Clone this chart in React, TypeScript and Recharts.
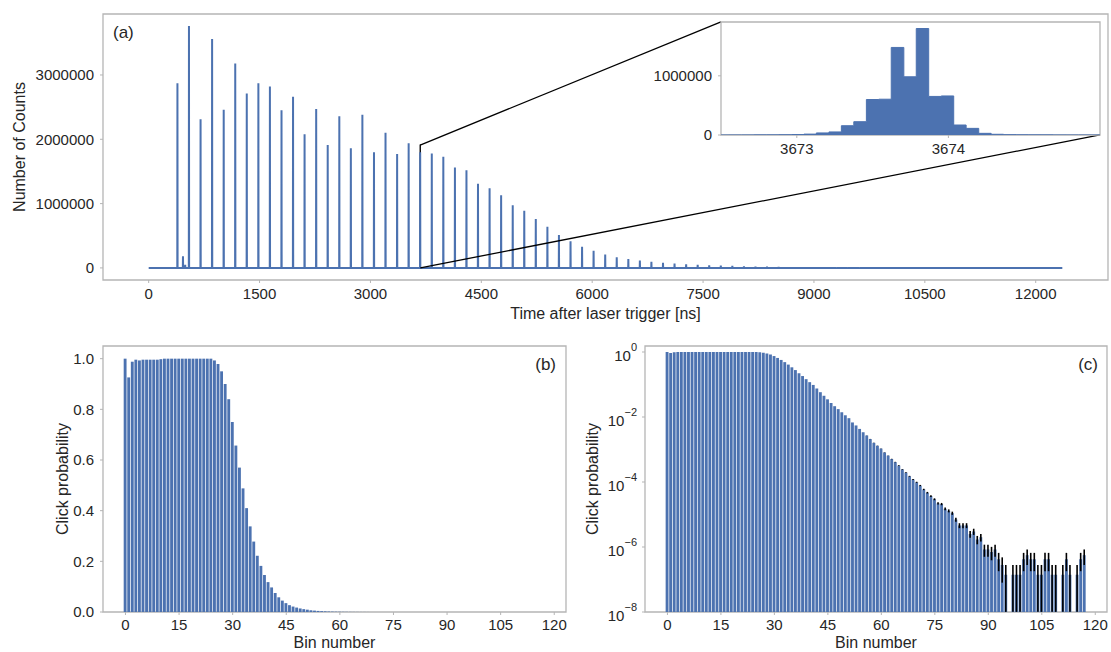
import React from "react";
import {
  LineChart,
  Line,
  AreaChart,
  Area,
  BarChart,
  Bar,
  XAxis,
  YAxis,
  ErrorBar,
  ReferenceArea,
  ReferenceLine,
} from "recharts";

const BLUE = "#4c72b0";
const FRAME = "#b5b5b5";
const TEXT = "#262626";
const FONT = "'Liberation Sans', Arial, Helvetica, sans-serif";

// (a) time trace: laser pulse peaks [ns] and their heights [counts]
const peakTimes = [
  389, 545, 702, 858, 1015, 1171, 1327, 1484, 1640, 1797, 1953, 2109, 2266, 2422, 2579,
  2735, 2891, 3048, 3204, 3361, 3517, 3673, 3830, 3986, 4143, 4299, 4455, 4612, 4768,
  4925, 5081, 5237, 5394, 5550, 5707, 5863, 6019, 6176, 6332, 6489, 6645, 6801, 6958,
  7114, 7271, 7427, 7583, 7740, 7896, 8053, 8209, 8365, 8522, 8678, 8835, 8991, 9147,
  9304, 9460, 9617,
];
const peakCounts = [
  2870000, 3760000, 2310000, 3560000, 2460000, 3180000, 2710000, 2870000, 2820000,
  2450000, 2660000, 2080000, 2470000, 1910000, 2360000, 1860000, 2380000, 1800000,
  2100000, 1770000, 1940000, 1800000, 1780000, 1730000, 1560000, 1520000, 1310000,
  1240000, 1130000, 975000, 890000, 760000, 640000, 510000, 415000, 330000, 265000,
  210000, 167000, 140000, 115000, 94000, 78000, 68000, 57000, 47000, 42000, 37000,
  31000, 26000, 22000, 19000, 16000, 13000, 11000, 9000, 8000, 7000, 6000, 5000,
];
const afterpulseTimes = [464, 494];
const afterpulseCounts = [180000, 50000];
const traceEnd = 12360;
const timeTicks = [0, 1500, 3000, 4500, 6000, 7500, 9000, 10500, 12000];
const countTicks = [0, 1000000, 2000000, 3000000];

// inset: zoom on the pulse at ~3673.6 ns
const insetBinStarts = [
  3672.5, 3672.553, 3672.635, 3672.718, 3672.8, 3672.882, 3672.965, 3673.047, 3673.129,
  3673.212, 3673.294, 3673.376, 3673.459, 3673.541, 3673.623, 3673.706, 3673.788,
  3673.87, 3673.953, 3674.035, 3674.117, 3674.2, 3674.282, 3674.364, 3674.447, 3674.529,
  3674.611, 3674.694, 3674.776, 3674.858, 3674.941,
];
const insetBinCounts = [
  1000, 1500, 2000, 2500, 3000, 5000, 8000, 15000, 35000, 52000, 157000, 225000, 600000,
  605000, 1480000, 984000, 1800000, 652000, 660000, 169000, 112000, 28000, 12000, 6000,
  4000, 3000, 2500, 2000, 1500, 1200, 1000,
];
const insetTimeTicks = [3673, 3674];
const insetCountTicks = [0, 1000000];

// (b), (c) click probability per bin
const clickProb = [
  1.0, 0.926, 0.988, 0.996, 0.993, 0.996, 0.996, 0.996, 0.996, 0.996, 0.998, 1.0, 1.0,
  1.0, 1.0, 1.0, 1.0, 1.0, 1.0, 1.0, 1.0, 1.0, 1.0, 1.0, 1.0, 0.993, 0.979, 0.95, 0.9,
  0.84, 0.75, 0.657, 0.57, 0.488, 0.41, 0.338, 0.278, 0.222, 0.182, 0.146, 0.118, 0.097,
  0.075, 0.058, 0.045, 0.035, 0.027, 0.0215, 0.0175, 0.014, 0.0113, 0.0092, 0.0068,
  0.0055, 0.0043, 0.0034, 0.0027, 0.0021, 0.0016, 0.0013, 0.00107, 8.1e-4, 6.5e-4,
  5.1e-4, 4.1e-4, 3.2e-4, 2.45e-4, 1.95e-4, 1.5e-4, 1.2e-4, 9.8e-5, 7.8e-5, 5.9e-5,
  4.7e-5, 3.7e-5, 2.95e-5, 2.2e-5, 2.1e-5, 1.5e-5, 1.3e-5, 1.1e-5, 7.0e-6, 4.6e-6,
  4.6e-6, 4.6e-6, 2.5e-6, 3.0e-6, 1.7e-6, 2.0e-6, 8.4e-7, 8.4e-7, 7.0e-7, 8.4e-7,
  4.2e-7, 2.8e-7, 1.4e-7, 0, 1.4e-7, 1.4e-7, 1.4e-7, 4.2e-7, 5.6e-7, 4.2e-7, 4.2e-7,
  1.4e-7, 1.4e-7, 4.2e-7, 4.2e-7, 1.4e-7, 1.4e-7, 0, 1.4e-7, 4.2e-7, 1.4e-7, 0, 1.4e-7,
  4.2e-7, 5.6e-7,
];
// error bars, only visible from bin 56 on
const clickErrFrom = 56;
const clickErrTail = [
  1.94e-5, 1.71e-5, 1.5e-5, 1.35e-5, 1.22e-5, 1.06e-5, 9.5e-6, 8.4e-6, 7.6e-6, 6.7e-6,
  5.9e-6, 5.2e-6, 4.6e-6, 4.1e-6, 3.7e-6, 3.3e-6, 2.9e-6, 2.6e-6, 2.3e-6, 2.0e-6,
  1.75e-6, 1.7e-6, 1.45e-6, 1.35e-6, 1.24e-6, 9.9e-7, 8.0e-7, 8.0e-7, 8.0e-7, 5.9e-7,
  6.5e-7, 4.9e-7, 5.3e-7, 3.4e-7, 3.4e-7, 3.1e-7, 3.4e-7, 2.4e-7, 2.0e-7, 1.4e-7, 0,
  1.4e-7, 1.4e-7, 1.4e-7, 2.4e-7, 2.8e-7, 2.4e-7, 2.4e-7, 1.4e-7, 1.4e-7, 2.4e-7,
  2.4e-7, 1.4e-7, 1.4e-7, 0, 1.4e-7, 2.4e-7, 1.4e-7, 0, 1.4e-7, 2.4e-7, 2.8e-7,
];
const binTicks = [0, 15, 30, 45, 60, 75, 90, 105, 120];
const probTicks = [0, 0.2, 0.4, 0.6, 0.8, 1.0];
const logTicks = [1, 1e-2, 1e-4, 1e-6, 1e-8];

// axis limits
const timeDomain = [-618, 12978];
const countDomain = [-188000, 3948000];
const zoomBox = { x1: 3672.5, x2: 3675, y1: 0, y2: 1910000 };
// inset corners expressed in main-axis coordinates
const insetTopLeft = { x: 7742, y: 3826000 };
const insetBottomRight = { x: 12869, y: 2068000 };
const binDomain = [-6.29, 123.29];
const logDomain = [1e-8, 1.53];

// tables for recharts
const pulses = peakTimes
  .map((t, i) => ({ t, c: peakCounts[i] }))
  .concat(afterpulseTimes.map((t, i) => ({ t, c: afterpulseCounts[i] })))
  .sort((a, b) => a.t - b.t);
const traceData: { t: number; c: number }[] = [{ t: 0, c: 0 }];
pulses.forEach((p) => traceData.push({ t: p.t - 2, c: 0 }, p, { t: p.t + 2, c: 0 }));
traceData.push({ t: traceEnd, c: 0 });

const insetData = insetBinStarts.map((t, i) => ({ t, c: insetBinCounts[i] }));
insetData.push({ t: 3675, c: insetBinCounts[insetBinCounts.length - 1] });

const clickData = clickProb.map((p, bin) => {
  const e = bin >= clickErrFrom ? clickErrTail[bin - clickErrFrom] : 0;
  return {
    bin,
    p,
    logP: p > 0 ? p : null,
    err: e > 0 ? [Math.min(e, p - 1.01e-8), e] : 0,
  };
});

const tickStyle = { fill: TEXT, fontSize: 15, fontFamily: FONT };
const titleStyle = { fill: TEXT, fontSize: 16, fontFamily: FONT };

const PowTick = (props: any) => {
  const { x, y, payload } = props;
  const exp = Math.round(Math.log10(payload.value));
  return (
    <text x={x} y={y} dy={9} textAnchor="end" fill={TEXT} fontSize={15} fontFamily={FONT}>
      10
      <tspan dy={-10} fontSize={11}>
        {exp === 0 ? "0" : "\u2212" + Math.abs(exp)}
      </tspan>
    </text>
  );
};

function TraceChart() {
  return (
    <LineChart
      width={1111}
      height={330}
      data={traceData}
      margin={{ top: 14, right: 3, bottom: 0, left: 20 }}
    >
      <XAxis
        dataKey="t"
        type="number"
        domain={timeDomain}
        ticks={timeTicks}
        interval={0}
        allowDataOverflow
        axisLine={false}
        tickLine={{ stroke: FRAME }}
        tickSize={3}
        tickMargin={5}
        tick={tickStyle}
        height={50}
        label={{ value: "Time after laser trigger [ns]", position: "insideBottom", offset: 11, ...titleStyle }}
      />
      <YAxis
        type="number"
        domain={countDomain}
        ticks={countTicks}
        interval={0}
        allowDataOverflow
        axisLine={false}
        tickLine={{ stroke: FRAME }}
        tickSize={3}
        tickMargin={6}
        tick={tickStyle}
        width={83}
        label={{
          value: "Number of Counts",
          angle: -90,
          position: "insideLeft",
          offset: -1,
          style: { textAnchor: "middle" },
          ...titleStyle,
        }}
      />
      <ReferenceArea
        x1={timeDomain[0]}
        x2={timeDomain[1]}
        y1={countDomain[0]}
        y2={countDomain[1]}
        fill="none"
        stroke={FRAME}
        strokeWidth={1.3}
      />
      <ReferenceArea {...zoomBox} fill="none" stroke="#000" strokeWidth={1.2} ifOverflow="visible" />
      <Line
        type="linear"
        dataKey="c"
        stroke={BLUE}
        strokeWidth={2}
        strokeLinejoin="bevel"
        dot={false}
        activeDot={false}
        isAnimationActive={false}
      />
      <ReferenceLine
        segment={[{ x: zoomBox.x1, y: zoomBox.y2 }, insetTopLeft]}
        stroke="#000"
        strokeWidth={1.3}
        ifOverflow="visible"
      />
      <ReferenceLine
        segment={[{ x: zoomBox.x2, y: zoomBox.y1 }, insetBottomRight]}
        stroke="#000"
        strokeWidth={1.3}
        ifOverflow="visible"
      />
    </LineChart>
  );
}

function InsetChart() {
  return (
    <AreaChart
      width={485}
      height={150}
      data={insetData}
      margin={{ top: 12, right: 5, bottom: 0, left: 6 }}
    >
      <XAxis
        dataKey="t"
        type="number"
        domain={[zoomBox.x1, zoomBox.x2]}
        ticks={insetTimeTicks}
        interval={0}
        allowDataOverflow
        axisLine={false}
        tickLine={{ stroke: FRAME }}
        tickSize={3}
        tickMargin={5}
        tick={tickStyle}
        height={25}
      />
      <YAxis
        type="number"
        domain={[zoomBox.y1, zoomBox.y2]}
        ticks={insetCountTicks}
        interval={0}
        allowDataOverflow
        axisLine={false}
        tickLine={{ stroke: FRAME }}
        tickSize={3}
        tickMargin={6}
        tick={tickStyle}
        width={95}
      />
      <ReferenceArea
        x1={zoomBox.x1}
        x2={zoomBox.x2}
        y1={zoomBox.y1}
        y2={zoomBox.y2}
        fill="none"
        stroke={FRAME}
        strokeWidth={1.3}
      />
      <Area
        type="stepAfter"
        dataKey="c"
        stroke={BLUE}
        strokeWidth={1}
        fill={BLUE}
        fillOpacity={1}
        baseValue={0}
        dot={false}
        activeDot={false}
        isAnimationActive={false}
      />
    </AreaChart>
  );
}

function LinearClickChart() {
  return (
    <BarChart
      width={580}
      height={322}
      data={clickData}
      margin={{ top: 16, right: 14, bottom: 0, left: 20 }}
    >
      <XAxis
        dataKey="bin"
        type="number"
        domain={binDomain}
        ticks={binTicks}
        interval={0}
        allowDataOverflow
        axisLine={false}
        tickLine={{ stroke: FRAME }}
        tickSize={3}
        tickMargin={4}
        tick={tickStyle}
        height={40}
        label={{ value: "Bin number", position: "insideBottom", offset: 4, ...titleStyle }}
      />
      <YAxis
        type="number"
        domain={[0, 1.05]}
        ticks={probTicks}
        interval={0}
        allowDataOverflow
        axisLine={false}
        tickLine={{ stroke: FRAME }}
        tickSize={3}
        tickMargin={6}
        tick={tickStyle}
        tickFormatter={(v: number) => v.toFixed(1)}
        width={83}
        label={{
          value: "Click probability",
          angle: -90,
          position: "insideLeft",
          offset: 42,
          style: { textAnchor: "middle" },
          ...titleStyle,
        }}
      />
      <ReferenceArea
        x1={binDomain[0]}
        x2={binDomain[1]}
        y1={0}
        y2={1.05}
        fill="none"
        stroke={FRAME}
        strokeWidth={1.3}
      />
      <Bar dataKey="p" fill={BLUE} barSize={2.86} isAnimationActive={false} />
    </BarChart>
  );
}

function LogClickChart() {
  return (
    <BarChart
      width={551}
      height={322}
      data={clickData}
      margin={{ top: 16, right: 4, bottom: 0, left: 10 }}
    >
      <XAxis
        dataKey="bin"
        type="number"
        domain={binDomain}
        ticks={binTicks}
        interval={0}
        allowDataOverflow
        axisLine={false}
        tickLine={{ stroke: FRAME }}
        tickSize={3}
        tickMargin={4}
        tick={tickStyle}
        height={40}
        label={{ value: "Bin number", position: "insideBottom", offset: 4, ...titleStyle }}
      />
      <YAxis
        type="number"
        scale="log"
        domain={logDomain}
        ticks={logTicks}
        interval={0}
        allowDataOverflow
        axisLine={false}
        tickLine={{ stroke: FRAME }}
        tickSize={3}
        tickMargin={5}
        tick={<PowTick />}
        width={75}
        label={{
          value: "Click probability",
          angle: -90,
          position: "insideLeft",
          offset: 22,
          style: { textAnchor: "middle" },
          ...titleStyle,
        }}
      />
      <ReferenceArea
        x1={binDomain[0]}
        x2={binDomain[1]}
        y1={logDomain[0]}
        y2={logDomain[1]}
        fill="none"
        stroke={FRAME}
        strokeWidth={1.3}
      />
      <Bar dataKey="logP" fill={BLUE} barSize={2.86} isAnimationActive={false}>
        <ErrorBar dataKey="err" width={0} stroke="#000" strokeWidth={1.6} direction="y" />
      </Bar>
    </BarChart>
  );
}

export default function App() {
  const abs = (left: number, top: number): React.CSSProperties => ({ position: "absolute", left, top });
  return (
    <div
      style={{
        position: "absolute",
        left: 0,
        top: 0,
        width: 1111,
        height: 652,
        background: "#fff",
        fontFamily: FONT,
        overflow: "hidden",
      }}
    >
      <div style={abs(0, 0)}>
        <TraceChart />
      </div>
      <div style={abs(620, 10)}>
        <InsetChart />
      </div>
      <div style={abs(0, 330)}>
        <LinearClickChart />
      </div>
      <div style={abs(560, 330)}>
        <LogClickChart />
      </div>
      <svg width={1111} height={652} style={{ ...abs(0, 0), pointerEvents: "none" }}>
        <g fill={TEXT} fontSize={17} fontFamily={FONT}>
          <text x={113} y={38}>(a)</text>
          <text x={556} y={370} textAnchor="end">(b)</text>
          <text x={1098} y={370} textAnchor="end">(c)</text>
        </g>
      </svg>
    </div>
  );
}
